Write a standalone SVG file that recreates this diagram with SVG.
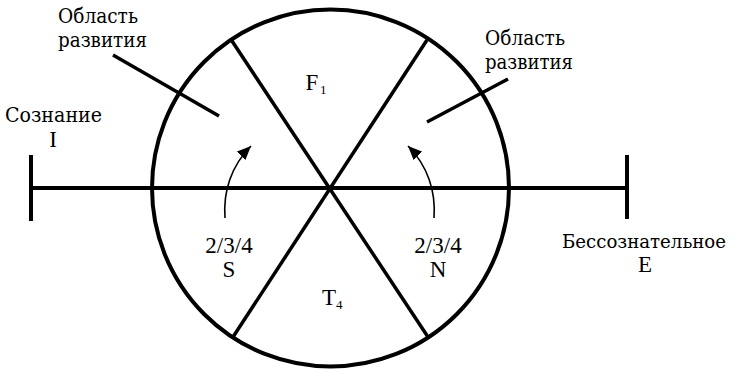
<svg xmlns="http://www.w3.org/2000/svg" width="733" height="371" viewBox="0 0 733 371">
<style>
.thick{stroke:#000;stroke-width:4;fill:none;stroke-linecap:butt}
.mid{stroke:#000;stroke-width:3.5;fill:none}
.thin{stroke:#000;stroke-width:1.6;fill:none}
text{font-family:'Liberation Serif','DejaVu Serif',serif;font-size:23px;fill:#000;text-anchor:middle}
.cy{font-family:'DejaVu Serif','Liberation Serif',serif;font-size:20px}
.st{text-anchor:start}
.sub{font-size:13px;text-anchor:start}
</style>
<defs>
<marker id="ah" markerUnits="userSpaceOnUse" markerWidth="16" markerHeight="14" refX="14" refY="6" orient="auto" viewBox="0 0 16 12">
<path d="M0,0 L14,6 L0,12 Z" fill="#000"/>
</marker>
</defs>
<g id="connectors">
<line class="thick" x1="31" y1="188" x2="627" y2="188"/>
<line class="thick" x1="31" y1="155" x2="31" y2="221"/>
<line class="thick" x1="627" y1="155" x2="627" y2="219"/>
<line class="mid" x1="232" y1="41" x2="428" y2="337"/>
<line class="mid" x1="427" y1="40" x2="233" y2="337"/>
<line class="mid" x1="113" y1="55" x2="219" y2="116"/>
<line class="mid" x1="508" y1="79" x2="427" y2="122"/>
<path class="thin" d="M225,218 C223,192 231,166 251,146" marker-end="url(#ah)"/>
<path class="thin" d="M434,218 C436,192 428,166 408,146" marker-end="url(#ah)"/>
</g>
<g id="circle">
<circle class="thick" cx="330.5" cy="188" r="178.5"/>
</g>
<g id="consciousness">
<text class="cy" x="53.5" y="122" textLength="97" lengthAdjust="spacingAndGlyphs">Сознание</text>
<text x="53" y="147">I</text>
</g>
<g id="unconscious">
<text class="cy" x="644" y="248" font-size="18" style="font-size:18px" textLength="164" lengthAdjust="spacingAndGlyphs">Бессознательное</text>
<text x="645" y="272">E</text>
</g>
<g id="dev-left">
<text class="cy st" x="58" y="23" textLength="80" lengthAdjust="spacingAndGlyphs">Область</text>
<text class="cy st" x="58" y="47" textLength="89" lengthAdjust="spacingAndGlyphs">развития</text>
</g>
<g id="dev-right">
<text class="cy st" x="485" y="45" textLength="80" lengthAdjust="spacingAndGlyphs">Область</text>
<text class="cy st" x="485" y="69" textLength="88" lengthAdjust="spacingAndGlyphs">развития</text>
</g>
<g id="F1">
<text x="312" y="90">F</text><text class="sub" x="320" y="94">1</text>
</g>
<g id="T4">
<text x="329" y="305">T</text><text class="sub" x="336" y="309">4</text>
</g>
<g id="S">
<text x="229" y="253">2/3/4</text>
<text x="229" y="277">S</text>
</g>
<g id="N">
<text x="438" y="253">2/3/4</text>
<text x="438" y="277">N</text>
</g>
</svg>
